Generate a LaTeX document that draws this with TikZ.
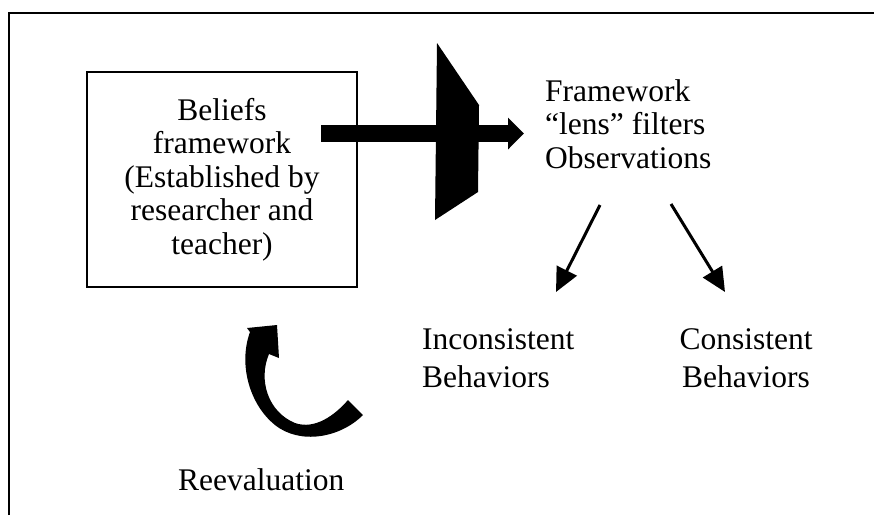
\documentclass[tikz,border=0pt]{standalone}
\usepackage{fontspec}
\setmainfont{Liberation Serif}
\usetikzlibrary{arrows.meta}
\tikzset{
  label text/.style={font=\fontsize{31.5}{33.5}\selectfont, inner sep=0pt},
  behav text/.style={font=\fontsize{31.5}{38}\selectfont, inner sep=0pt},
  thin arrow/.style={line width=3pt, -{Triangle[length=24pt,width=22pt]}},
  frame line/.style={line width=1.5pt}
}
\begin{document}
\begin{tikzpicture}[x=1pt,y=-1pt]
  \useasboundingbox (0,0) rectangle (874,515);

  % open outer frame (left and top sides)
  \draw[frame line] (9,515) -- (9,13) -- (874,13);

  % beliefs box
  \node[label text, draw, line width=1.6pt, minimum width=270pt, minimum height=215pt, align=center]
    (beliefs) at (222,179.5) {Beliefs\\framework\\(Established by\\researcher and\\teacher)};

  % framework lens text (base anchor sits on the last line)
  \node[label text, anchor=base west, align=left] (lens) at (545,168)
    {Framework\\“lens” filters\\Observations};

  % outcome labels
  \node[behav text, anchor=base west, align=left] (incons) at (422,387)
    {Inconsistent\\Behaviors};
  \node[behav text, anchor=base, align=center] (cons) at (746,387)
    {Consistent\\Behaviors};
  \node[label text, anchor=base west] (reeval) at (178,490) {Reevaluation};

  % thick arrow from the box through the lens
  \coordinate (bigstart) at (321,133.5);
  \coordinate (bigend) at (524,133.5);
  \draw[line width=17pt, -{Triangle[length=16pt,width=31pt]}] (bigstart) -- (bigend);

  % lens shape
  \fill (437,43) -- (479,105) -- (478,192) -- (435,220) -- cycle;

  % split arrows
  \coordinate (splitL) at (600,205);
  \coordinate (splitR) at (671,204);
  \coordinate (tipL) at (556,292);
  \coordinate (tipR) at (725,292);
  \draw[thin arrow] (splitL) -- (tipL);
  \draw[thin arrow] (splitR) -- (tipR);

  % curved feedback arrow
  \fill (363,415) .. controls (340,438) and (300,445) .. (275,425)
        .. controls (250,405) and (238,365) .. (250,332)
        -- (247,328) -- (277,325) -- (279,358) -- (269,354)
        .. controls (258,380) and (268,412) .. (295,423)
        .. controls (315,430) and (335,415) .. (348,400) -- cycle;
\end{tikzpicture}
\end{document}
